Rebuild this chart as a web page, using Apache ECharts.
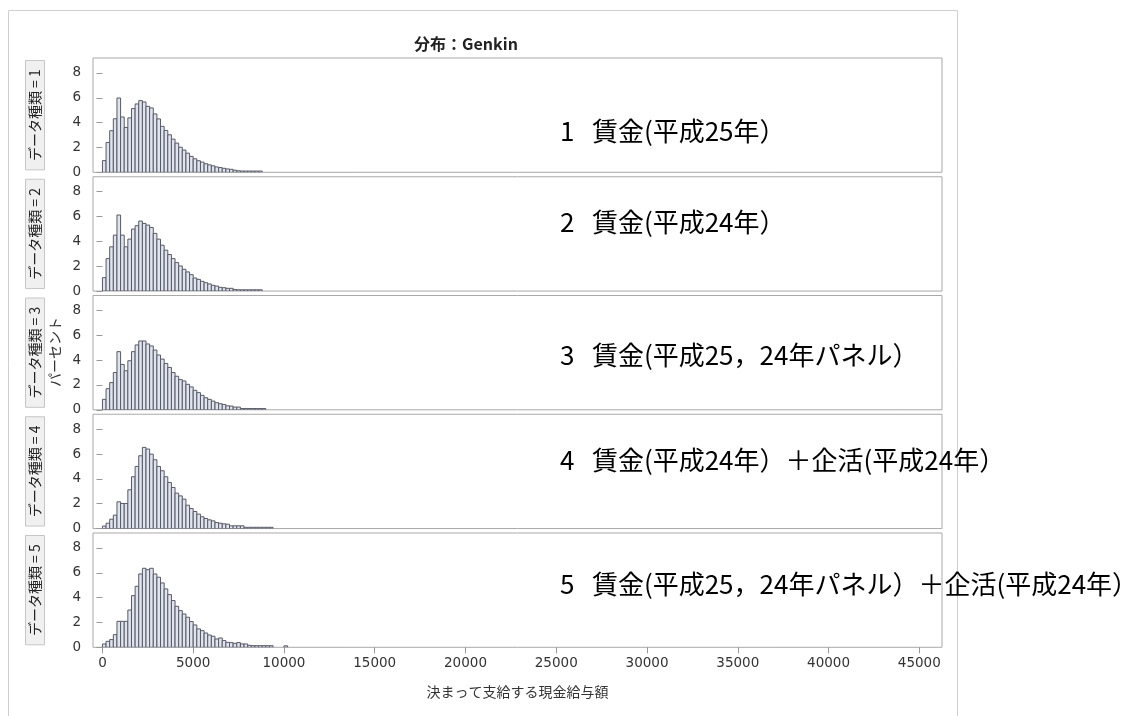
<!DOCTYPE html>
<html>
<head>
<meta charset="utf-8">
<script src="https://cdn.jsdelivr.net/npm/echarts@6/dist/echarts.min.js"></script>
<style>
  html, body { margin: 0; padding: 0; background: #ffffff; }
  #chart { width: 1134px; height: 716px; }
</style>
</head>
<body>
<div id="chart"></div>
<script>
// Histogram of 決まって支給する現金給与額, one panel per データ種類.
// Bins are 200 wide and start at 0; values are percentages.
const BIN_WIDTH = 200;

const panelKeys = ['1', '2', '3', '4', '5'];
const panelNames = [
  '1   賃金(平成25年）',
  '2   賃金(平成24年）',
  '3   賃金(平成25，24年パネル）',
  '4   賃金(平成24年）＋企活(平成24年）',
  '5   賃金(平成25，24年パネル）＋企活(平成24年）'
];

const pct1 = [0.94, 2.4, 3.35, 4.31, 5.98, 4.45, 3.61, 4.38, 5.13, 5.5, 5.77, 5.66, 5.31, 5.18, 4.7,
  4.3, 3.7, 3.37, 3.02, 2.67, 2.35, 2.02, 1.79, 1.54, 1.28, 1.09, 0.93, 0.82, 0.69, 0.6, 0.52, 0.43,
  0.38, 0.32, 0.27, 0.24, 0.17, 0.12, 0.1, 0.1, 0.1, 0.1, 0.1, 0.1];
const pct2 = [1.08, 2.61, 3.56, 4.5, 6.12, 4.5, 3.56, 4.18, 4.99, 5.26, 5.63, 5.44, 5.31, 5.12, 4.64,
  4.18, 3.69, 3.29, 2.94, 2.61, 2.29, 2.02, 1.75, 1.54, 1.32, 1.05, 0.94, 0.78, 0.67, 0.57, 0.46, 0.4,
  0.3, 0.27, 0.22, 0.22, 0.13, 0.1, 0.1, 0.1, 0.1, 0.1, 0.1, 0.1];
const pct3 = [0.84, 1.7, 2.19, 3.0, 4.68, 3.65, 3.14, 3.95, 4.68, 5.22, 5.54, 5.54, 5.3, 5.14, 4.81,
  4.41, 4.08, 3.73, 3.41, 3.0, 2.7, 2.43, 2.32, 2.05, 1.84, 1.57, 1.38, 1.16, 0.97, 0.84, 0.7, 0.57,
  0.49, 0.43, 0.32, 0.3, 0.22, 0.22, 0.1, 0.1, 0.1, 0.1, 0.1, 0.1, 0.1];
const pct4 = [0.2, 0.43, 0.75, 1.08, 2.15, 2.02, 2.02, 3.12, 4.17, 5.0, 5.86, 6.53, 6.4, 5.99, 5.54,
  5.0, 4.65, 4.17, 3.71, 3.31, 2.85, 2.63, 2.37, 1.88, 1.61, 1.37, 1.16, 0.94, 0.81, 0.7, 0.62, 0.48,
  0.43, 0.38, 0.35, 0.22, 0.22, 0.22, 0.22, 0.1, 0.1, 0.1, 0.1, 0.1, 0.1, 0.1, 0.1];
const pct5 = [0.27, 0.48, 0.62, 1.02, 2.09, 2.09, 2.09, 3.0, 4.16, 4.91, 5.9, 6.36, 6.25, 6.36, 5.9,
  5.64, 5.18, 4.7, 4.24, 3.76, 3.3, 2.95, 2.68, 2.42, 2.07, 1.8, 1.48, 1.34, 1.15, 0.99, 0.89, 0.67,
  0.75, 0.54, 0.4, 0.38, 0.32, 0.38, 0.27, 0.27, 0.16, 0.13, 0.13, 0.13, 0.13, 0.13, 0.13,
  0, 0, 0, 0.12];

const panelPct = [pct1, pct2, pct3, pct4, pct5];

const xTickValues = [0, 5000, 10000, 15000, 20000, 25000, 30000, 35000, 40000, 45000];
const yTickValues = [0, 2, 4, 6, 8];

// ---- layout & style ----
const NUM_FONT = 'DejaVu Sans';
const JP_FONT = 'Noto Sans CJK JP';
const GRID_LEFT = 93;
const GRID_RIGHT = 192;
const GRID_TOP0 = 58;
const GRID_STEP = 118.75;
const GRID_H = 114.3;
const X_MIN = -520;
const X_MAX = 46250;
const Y_MAX = 9.2;
const FRAME = '#a9a9a9';
const BAR_FILL = '#e0e4ee';
const BAR_LINE = '#575a66';
const labelCenterY = [131, 222, 355, 460, 584];

const chart = echarts.init(document.getElementById('chart'), null, { renderer: 'canvas' });

const grids = [], xAxes = [], yAxes = [], series = [], graphics = [];

panelKeys.forEach((key, i) => {
  const top = GRID_TOP0 + i * GRID_STEP;
  const last = i === panelKeys.length - 1;
  grids.push({
    left: GRID_LEFT, right: GRID_RIGHT, top: top, height: GRID_H,
    show: true, borderColor: FRAME, borderWidth: 1, backgroundColor: 'transparent'
  });
  xAxes.push({
    type: 'value', gridIndex: i, min: X_MIN, max: X_MAX,
    axisLine: { show: false },
    splitLine: { show: false },
    axisTick: { show: last, customValues: xTickValues, length: 6, lineStyle: { color: '#999999' } },
    axisLabel: {
      show: last, customValues: xTickValues, margin: 9,
      formatter: v => String(v),
      fontFamily: NUM_FONT, fontSize: 13.5, color: '#333333'
    },
    name: last ? '決まって支給する現金給与額' : '',
    nameLocation: 'middle', nameGap: 37,
    nameTextStyle: { fontFamily: JP_FONT, fontSize: 14, color: '#333333' }
  });
  yAxes.push({
    type: 'value', gridIndex: i, min: 0, max: Y_MAX,
    axisLine: { show: false },
    splitLine: { show: false },
    axisTick: { show: true, customValues: yTickValues, length: 6, lineStyle: { color: '#999999' } },
    axisLabel: {
      customValues: yTickValues, margin: 12,
      fontFamily: NUM_FONT, fontSize: 13.5, color: '#333333'
    }
  });
  const data = [];
  panelPct[i].forEach((v, k) => {
    if (v > 0) data.push([k * BIN_WIDTH, (k + 1) * BIN_WIDTH, v]);
  });
  series.push({
    type: 'custom', name: 'データ種類 = ' + key,
    xAxisIndex: i, yAxisIndex: i, clip: true,
    encode: { x: [0, 1], y: 2 },
    data: data,
    renderItem: (params, api) => {
      const p0 = api.coord([api.value(0), api.value(2)]);
      const p1 = api.coord([api.value(1), 0]);
      return {
        type: 'rect',
        shape: { x: p0[0], y: p0[1], width: p1[0] - p0[0], height: p1[1] - p0[1] },
        style: { fill: BAR_FILL, stroke: BAR_LINE, lineWidth: 1 }
      };
    }
  });
  // strip label at the left of the panel
  graphics.push({
    type: 'rect', silent: true,
    shape: { x: 25.5, y: top + 2.5, width: 19, height: GRID_H - 5 },
    style: { fill: '#f0f0f0', stroke: '#c6c6c6', lineWidth: 1 }
  });
  graphics.push({
    type: 'text', silent: true,
    x: 35, y: top + GRID_H / 2, rotation: Math.PI / 2,
    style: {
      text: 'データ種類 = ' + key, fontFamily: JP_FONT, fontSize: 14,
      fill: '#222222', align: 'center', verticalAlign: 'middle'
    }
  });
  // panel caption
  graphics.push({
    type: 'text', silent: true,
    x: 560, y: labelCenterY[i],
    style: {
      text: panelNames[i], fontFamily: JP_FONT, fontSize: 26,
      fill: '#000000', align: 'left', verticalAlign: 'middle'
    }
  });
});

// outer frame of the figure
graphics.unshift({
  type: 'rect', silent: true, z: -10,
  shape: { x: 8.5, y: 10.5, width: 949, height: 730 },
  style: { fill: 'none', stroke: '#cfcfcf', lineWidth: 1 }
});
// shared y-axis title
graphics.push({
  type: 'text', silent: true,
  x: 55, y: 352, rotation: Math.PI / 2,
  style: {
    text: 'パーセント', fontFamily: JP_FONT, fontSize: 14,
    fill: '#333333', align: 'center', verticalAlign: 'middle'
  }
});
// title
graphics.push({
  type: 'text', silent: true,
  x: 466, y: 44,
  style: {
    text: '分布：Genkin', fontFamily: JP_FONT, fontSize: 16, fontWeight: 'bold',
    fill: '#222222', align: 'center', verticalAlign: 'middle'
  }
});

chart.setOption({
  animation: false,
  backgroundColor: '#ffffff',
  grid: grids,
  xAxis: xAxes,
  yAxis: yAxes,
  series: series,
  graphic: { elements: graphics }
});
</script>
</body>
</html>
